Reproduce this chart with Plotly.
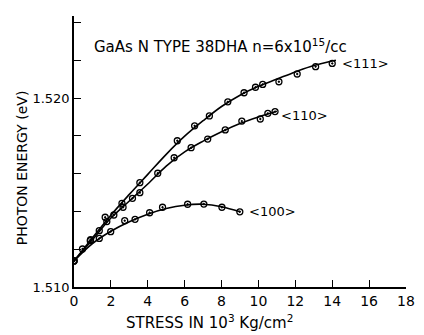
import plotly.graph_objects as go

# ---- data (stress in 10^3 kg/cm^2, photon energy in eV) ----
s111 = [0, 0.46, 0.9, 1.69, 2.6, 3.57, 5.6, 6.54, 7.34, 8.34, 9.22, 9.84, 10.23, 11.11, 12.1, 13.1, 14.0]
e111 = [1.51138, 1.51201, 1.5125, 1.51369, 1.51443, 1.51552, 1.51774, 1.51853, 1.51905, 1.5198, 1.52028, 1.52057, 1.52072, 1.52086, 1.52127, 1.52166, 1.52183]

s110 = [0, 1.37, 1.78, 2.16, 2.66, 3.17, 3.57, 4.54, 5.43, 6.35, 7.25, 8.2, 9.1, 10.1, 10.51, 10.9]
e110 = [1.51138, 1.51298, 1.51346, 1.51381, 1.51422, 1.51469, 1.51499, 1.51602, 1.51684, 1.51737, 1.51783, 1.51831, 1.51878, 1.51889, 1.51919, 1.51928]

s100 = [0, 0.88, 1.37, 1.99, 2.75, 3.31, 4.1, 4.8, 6.16, 7.04, 8.02, 8.99]
e100 = [1.51138, 1.51245, 1.51257, 1.51293, 1.51351, 1.51358, 1.51393, 1.51422, 1.51438, 1.51439, 1.51422, 1.51398]

# fitted curves as drawn
c111_s = [0, 1, 2, 3, 4, 5, 6, 7, 8, 9, 10, 11, 12, 13, 14.2]
c111_e = [1.51138, 1.5126, 1.5138, 1.5149, 1.51596, 1.51702, 1.51798, 1.5188, 1.51955, 1.52015, 1.52062, 1.521, 1.52138, 1.52172, 1.522]

c110_s = [0, 1, 2, 3, 4, 5, 6, 7, 8, 9, 10, 11]
c110_e = [1.51138, 1.5125, 1.51365, 1.51455, 1.51545, 1.5164, 1.51715, 1.51772, 1.51822, 1.51865, 1.519, 1.5193]

c100_s = [0, 1, 2, 3, 4, 5, 6, 7, 8, 9]
c100_e = [1.51138, 1.5123, 1.51295, 1.51345, 1.51385, 1.51415, 1.51433, 1.51438, 1.51425, 1.51398]

x_ticks = [0, 2, 4, 6, 8, 10, 12, 14, 16, 18]
y_ticks = [1.510, 1.512, 1.514, 1.516, 1.518, 1.520, 1.522, 1.524]
y_ticktext = ["1.510", "", "", "", "", "1.520", "", ""]

labels = ["<111>", "<110>", "<100>"]
label_x = [14.41, 11.14, 9.4]
label_y = [1.52185, 1.5191, 1.51397]

FONT = "DejaVu Sans"
fig = go.Figure()

for cs, ce in [(c111_s, c111_e), (c110_s, c110_e), (c100_s, c100_e)]:
    fig.add_trace(go.Scatter(x=cs, y=ce, mode="lines", line=dict(color="black", width=1.6, shape="spline", smoothing=1.0),
                             showlegend=False, hoverinfo="skip"))

for xs, ys in [(s111, e111), (s110, e110), (s100, e100)]:
    fig.add_trace(go.Scatter(x=xs, y=ys, mode="markers",
                             marker=dict(symbol="circle-open-dot", size=6, color="black", line=dict(color="black", width=1.3)),
                             showlegend=False))

for t, lx, ly in zip(labels, label_x, label_y):
    fig.add_annotation(x=lx, y=ly, text=t, showarrow=False, xanchor="left", yanchor="middle",
                       font=dict(family=FONT, size=13, color="black"))

fig.add_annotation(x=0.95, y=1.52275, text="GaAs N TYPE 38DHA n=6x10<sup>15</sup>/cc", showarrow=False,
                   xanchor="left", yanchor="middle", font=dict(family=FONT, size=15, color="black"))

fig.add_annotation(xref="paper", yref="paper", x=-0.158, y=0.44, text="PHOTON ENERGY (eV)", textangle=-90,
                   showarrow=False, xanchor="center", yanchor="middle", font=dict(family=FONT, size=14, color="black"))
fig.add_annotation(xref="paper", yref="paper", x=0.408, y=-0.13, text="STRESS IN 10<sup>3</sup> Kg/cm<sup>2</sup>",
                   showarrow=False, xanchor="center", yanchor="middle", font=dict(family=FONT, size=15, color="black"))

fig.update_xaxes(range=[0, 18], tickvals=x_ticks, ticks="inside", ticklen=7, tickwidth=1.3, tickcolor="black",
                 showline=True, linecolor="black", linewidth=1.6, showgrid=False, zeroline=False,
                 tickfont=dict(family=FONT, size=14, color="black"))
fig.update_yaxes(range=[1.510, 1.52434], tickvals=y_ticks, ticktext=y_ticktext, ticks="inside", ticklen=7,
                 tickwidth=1.3, tickcolor="black", showline=True, linecolor="black", linewidth=1.6,
                 showgrid=False, zeroline=False, tickfont=dict(family=FONT, size=13, color="black"))

fig.update_layout(width=424, height=335, margin=dict(l=74, r=9, t=16, b=48),
                  plot_bgcolor="white", paper_bgcolor="white")

fig.write_html("out.html")
